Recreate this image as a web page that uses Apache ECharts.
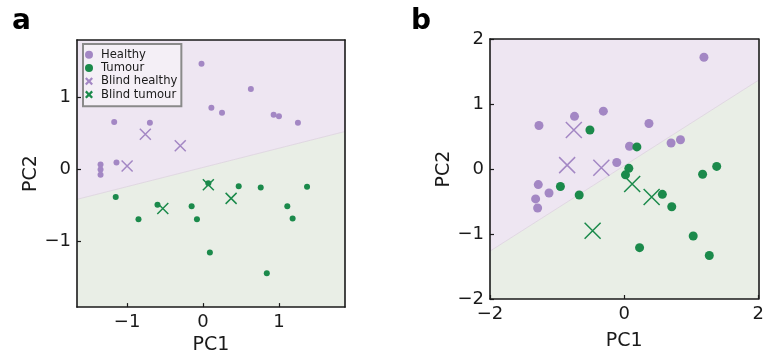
<!DOCTYPE html>
<html>
<head>
<meta charset="utf-8">
<script src="https://cdn.jsdelivr.net/npm/echarts@6/dist/echarts.min.js"></script>
<style>
  html, body { margin: 0; padding: 0; background: #ffffff; }
  #chart { width: 767px; height: 360px; }
</style>
</head>
<body>
<div id="chart"></div>
<script>
// ---- Panel a: PCA scores ----
const healthyA = [
  [-0.02, 1.46], [0.63, 1.11], [0.11, 0.85], [0.25, 0.78], [0.93, 0.75],
  [1.00, 0.73], [1.25, 0.64], [-1.17, 0.65], [-0.70, 0.64], [-1.14, 0.09],
  [-1.35, 0.06], [-1.35, -0.01], [-1.35, -0.08]
];
const tumourA = [
  [-1.15, -0.39], [-0.60, -0.50], [-0.85, -0.70], [-0.15, -0.52], [-0.08, -0.70],
  [0.07, -0.20], [0.47, -0.24], [0.76, -0.26], [1.37, -0.25], [1.11, -0.52],
  [1.18, -0.69], [0.09, -1.16], [0.84, -1.45]
];
const blindHealthyA = [[-0.76, 0.48], [-0.30, 0.32], [-1.00, 0.04]];
const blindTumourA = [[-0.53, -0.55], [0.07, -0.22], [0.37, -0.41]];
const boundaryA = [[-1.66, -0.423], [1.87, 0.519]];
const xRangeA = [-1.66, 1.87];
const yRangeA = [-1.92, 1.79];
const xTicksA = [-1, 0, 1];
const yTicksA = [-1, 0, 1];

// ---- Panel b ----
const healthyB = [
  [1.19, 1.72], [-1.27, 0.67], [-0.74, 0.81], [-0.31, 0.89], [0.37, 0.70],
  [0.08, 0.35], [0.70, 0.40], [0.84, 0.45], [-0.11, 0.10], [-1.28, -0.24],
  [-1.12, -0.37], [-1.32, -0.46], [-1.29, -0.60]
];
const tumourB = [
  [-0.51, 0.60], [0.19, 0.34], [0.07, 0.01], [0.02, -0.09], [-0.95, -0.27],
  [-0.67, -0.40], [0.57, -0.39], [0.71, -0.58], [1.17, -0.08], [1.38, 0.04],
  [1.03, -1.03], [1.27, -1.33], [0.23, -1.21]
];
const blindHealthyB = [[-0.75, 0.60], [-0.85, 0.06], [-0.34, 0.02]];
const blindTumourB = [[0.12, -0.23], [0.41, -0.43], [-0.47, -0.95]];
const boundaryB = [[-2, -1.264], [2, 1.364]];
const xRangeB = [-2, 2];
const yRangeB = [-2, 2];
const xTicksB = [-2, 0, 2];
const yTicksB = [-2, -1, 0, 1, 2];

const seriesNames = ['Healthy', 'Tumour', 'Blind healthy', 'Blind tumour'];

const PURPLE = '#a387c4';
const GREEN = '#1b8a4b';
const BG_PURPLE = '#eee6f2';
const BG_GREEN = '#e9eee6';
const INK = '#1a1a1a';
const FONT = 'DejaVu Sans';

const CROSS = 'path://M0,0L10,10M10,0L0,10';
const CROSS_BOLD = 'path://M2,0L5,3L8,0L10,2L7,5L10,8L8,10L5,7L2,10L0,8L3,5L0,2Z';

const minus = v => String(v).replace('-', '\u2212');

function axesFor(gi, xr, yr, xt, yt, nameGapX, nameGapY) {
  const common = {
    z: 10, splitLine: { show: false },
    axisLine: { show: true, onZero: false, lineStyle: { color: INK, width: 1.6 } },
    axisTick: { show: true, inside: true, length: 4, lineStyle: { color: INK, width: 1.2 } },
    axisLabel: { show: true, margin: 6, color: INK, fontSize: 18, fontFamily: FONT, formatter: minus },
    nameTextStyle: { color: INK, fontSize: 19, fontFamily: FONT }
  };
  const x = Object.assign({}, common, {
    type: 'value', gridIndex: gi, min: xr[0], max: xr[1], position: 'bottom',
    name: 'PC1', nameLocation: 'middle', nameGap: nameGapX,
    axisTick: Object.assign({}, common.axisTick, { customValues: xt }),
    axisLabel: Object.assign({}, common.axisLabel, { customValues: xt })
  });
  const y = Object.assign({}, common, {
    type: 'value', gridIndex: gi, min: yr[0], max: yr[1], position: 'left',
    name: 'PC2', nameLocation: 'middle', nameGap: nameGapY,
    axisTick: Object.assign({}, common.axisTick, { customValues: yt }),
    axisLabel: Object.assign({}, common.axisLabel, { customValues: yt })
  });
  // frame on the top and right sides
  const xTop = {
    type: 'value', gridIndex: gi, min: xr[0], max: xr[1], position: 'top', z: 10,
    axisLine: { show: true, onZero: false, lineStyle: { color: INK, width: 1.6 } },
    axisTick: { show: false }, axisLabel: { show: false }, splitLine: { show: false }
  };
  const yRight = {
    type: 'value', gridIndex: gi, min: yr[0], max: yr[1], position: 'right', z: 10,
    axisLine: { show: true, onZero: false, lineStyle: { color: INK, width: 1.6 } },
    axisTick: { show: false }, axisLabel: { show: false }, splitLine: { show: false }
  };
  return { x: [x, xTop], y: [y, yRight] };
}

function panelSeries(xi, yi, sets, boundary, dot, cross) {
  const base = { xAxisIndex: xi, yAxisIndex: yi, silent: true, animation: false };
  return [
    // class regions either side of the decision boundary
    Object.assign({}, base, {
      type: 'line', data: boundary, symbol: 'none', z: 1,
      lineStyle: { width: 0 },
      areaStyle: { origin: 'end', color: BG_PURPLE, opacity: 1 }
    }),
    Object.assign({}, base, {
      type: 'line', data: boundary, symbol: 'none', z: 1,
      lineStyle: { width: 0 },
      areaStyle: { origin: 'start', color: BG_GREEN, opacity: 1 }
    }),
    Object.assign({}, base, {
      type: 'line', data: boundary, symbol: 'none', z: 2,
      lineStyle: { color: '#dcd0de', width: 0.8 }
    }),
    Object.assign({}, base, {
      name: seriesNames[0], type: 'scatter', data: sets[0], symbol: 'circle',
      symbolSize: dot, z: 3, itemStyle: { color: PURPLE, opacity: 1 }
    }),
    Object.assign({}, base, {
      name: seriesNames[1], type: 'scatter', data: sets[1], symbol: 'circle',
      symbolSize: dot, z: 3, itemStyle: { color: GREEN, opacity: 1 }
    }),
    Object.assign({}, base, {
      name: seriesNames[2], type: 'scatter', data: sets[2], symbol: CROSS,
      symbolSize: cross, z: 4,
      itemStyle: { color: 'transparent', borderColor: PURPLE, borderWidth: 1.5, opacity: 1 }
    }),
    Object.assign({}, base, {
      name: seriesNames[3], type: 'scatter', data: sets[3], symbol: CROSS,
      symbolSize: cross, z: 4,
      itemStyle: { color: 'transparent', borderColor: GREEN, borderWidth: 1.5, opacity: 1 }
    })
  ];
}

const axA = axesFor(0, xRangeA, yRangeA, xTicksA, yTicksA, 26, 36);
const axB = axesFor(1, xRangeB, yRangeB, xTicksB, yTicksB, 33, 33);

const chart = echarts.init(document.getElementById('chart'), null, { renderer: 'canvas' });
chart.setOption({
  animation: false,
  backgroundColor: '#ffffff',
  grid: [
    { left: 77, top: 40, width: 268, height: 268, containLabel: false },
    { left: 490, top: 39, width: 272, height: 260, containLabel: false }
  ],
  xAxis: [axA.x[0], axA.x[1], axB.x[0], axB.x[1]],
  yAxis: [axA.y[0], axA.y[1], axB.y[0], axB.y[1]],
  legend: {
    show: true, orient: 'vertical', left: 83, top: 44, z: 20,
    selectedMode: false,
    backgroundColor: 'rgba(255,255,255,0.35)',
    borderColor: '#8a8a8a', borderWidth: 2, borderRadius: 0,
    padding: [4, 4, 5, 2],
    itemWidth: 14, itemHeight: 8, itemGap: 0,
    textStyle: { color: INK, fontSize: 11.6, fontFamily: FONT, lineHeight: 13.3 },
    data: [
      { name: seriesNames[0], icon: 'circle', itemStyle: { color: PURPLE } },
      { name: seriesNames[1], icon: 'circle', itemStyle: { color: GREEN } },
      { name: seriesNames[2], icon: CROSS_BOLD,
        itemStyle: { color: PURPLE, borderColor: PURPLE, borderWidth: 0 } },
      { name: seriesNames[3], icon: CROSS_BOLD,
        itemStyle: { color: GREEN, borderColor: GREEN, borderWidth: 0 } }
    ]
  },
  graphic: [
    { type: 'text', left: 12, top: 8, z: 10,
      style: { text: 'a', fill: '#000', font: 'bold 28px "DejaVu Sans"' } },
    { type: 'text', left: 411, top: 8, z: 10,
      style: { text: 'b', fill: '#000', font: 'bold 28px "DejaVu Sans"' } }
  ],
  series: [].concat(
    panelSeries(0, 0, [healthyA, tumourA, blindHealthyA, blindTumourA], boundaryA, 6, 11),
    panelSeries(2, 2, [healthyB, tumourB, blindHealthyB, blindTumourB], boundaryB, 9, 16)
  )
});
</script>
</body>
</html>
